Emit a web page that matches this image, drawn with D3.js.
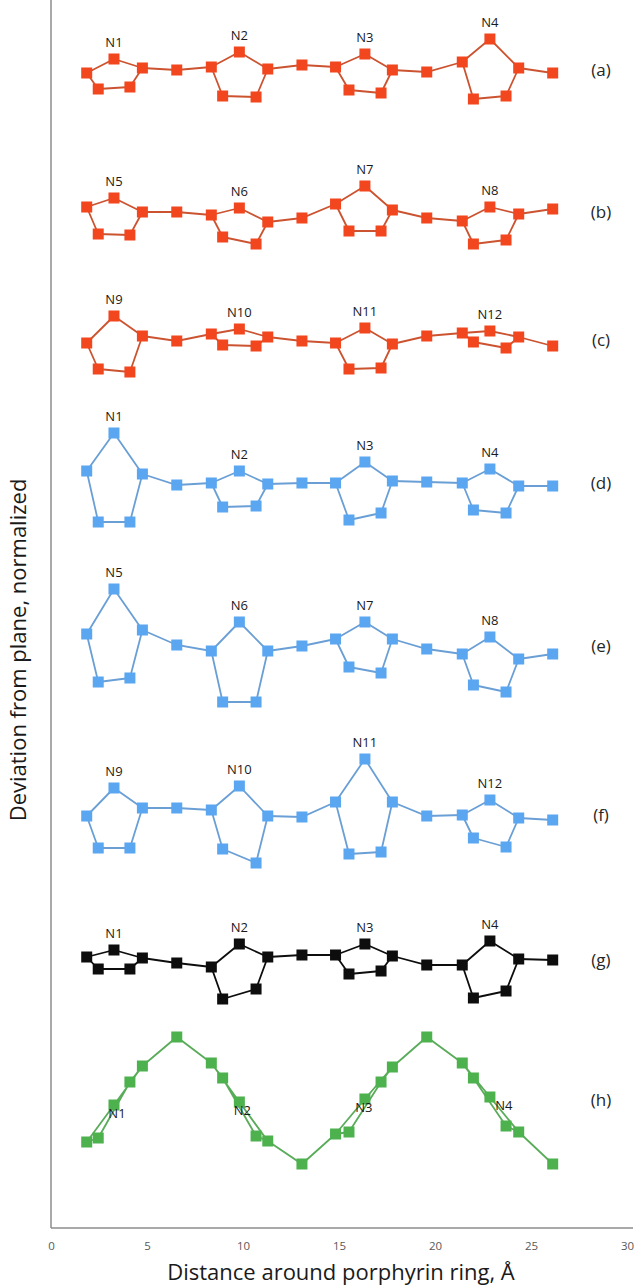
<!DOCTYPE html>
<html>
<head>
<meta charset="utf-8">
<script src="https://cdn.jsdelivr.net/npm/d3@7"></script>
<style>
  body { margin: 0; background: #fff; }
  svg text { font-family: "Open Sans", "Noto Sans", sans-serif; }
</style>
</head>
<body>
<svg id="chart" width="641" height="1285"></svg>
<script>
// atom positions around the ring (Å): Ca, Cb, N, Cb, Ca, meso ... x4, last meso
var xPos = [1.86, 2.46, 3.28, 4.11, 4.76, 6.55,
            8.35, 8.94, 9.81, 10.68, 11.29, 13.07,
            14.82, 15.52, 16.35, 17.19, 17.78, 19.57,
            21.42, 22.0, 22.86, 23.70, 24.36, 26.13];

var xTicks = [0, 5, 10, 15, 20, 25, 30];

var panelNames = ["(a)", "(b)", "(c)", "(d)", "(e)", "(f)", "(g)", "(h)"];
var panelOffsets = [115.8, 101.6, 88.8, 74.5, 58.2, 41.3, 26.8, 12.8];

var nLabelsA = ["N1", "N2", "N3", "N4"];
var nLabelsB = ["N5", "N6", "N7", "N8"];
var nLabelsC = ["N9", "N10", "N11", "N12"];

// deviation from plane, per atom (same order as xPos)
var devA = [-0.3, -1.9, 1.1, -1.7, 0.2, 0, 0.3, -2.6, 1.8, -2.7, 0.1, 0.5,
            0.3, -2.0, 1.6, -2.3, 0, -0.2, 0.8, -2.9, 3.1, -2.6, 0.2, -0.3];
var devB = [0.5, -2.2, 1.4, -2.3, 0, 0, -0.3, -2.5, 0.4, -3.2, -1.0, -0.6,
            0.8, -1.9, 2.6, -1.9, 0.2, -0.6, -0.9, -3.2, 0.5, -2.8, -0.2, 0.3];
var devC = [-0.3, -2.9, 2.4, -3.2, 0.4, -0.1, 0.6, -0.5, 1.1, -0.6, 0.3, -0.1,
            -0.3, -2.9, 1.2, -2.8, -0.4, 0.4, 0.7, -0.2, 0.9, -0.8, 0.3, -0.6];
var devD = [1.2, -3.9, 5.0, -3.9, 0.9, -0.2, 0, -2.4, 1.2, -2.3, -0.1, 0,
            0, -3.7, 2.1, -3.0, 0.2, 0.1, 0, -2.7, 1.4, -3.0, -0.3, -0.3];
var devE = [1.2, -3.6, 5.7, -3.2, 1.6, 0.1, -0.5, -5.6, 2.4, -5.6, -0.5, 0,
            0.7, -2.1, 2.4, -2.7, 0.7, -0.3, -0.8, -3.9, 0.9, -4.6, -1.3, -0.8];
var devF = [-0.1, -3.3, 2.7, -3.3, 0.7, 0.7, 0.5, -3.4, 2.9, -4.8, -0.1, -0.2,
            1.3, -3.9, 5.6, -3.7, 1.3, -0.1, 0, -2.3, 1.5, -3.2, -0.3, -0.5];
var devG = [0.3, -0.9, 1.0, -0.9, 0.2, -0.3, -0.7, -3.9, 1.6, -2.9, 0.3, 0.5,
            0.5, -1.4, 1.6, -1.1, 0.4, -0.5, -0.5, -3.8, 1.9, -3.1, 0.1, 0];
var devH = [-4.2, -3.8, -0.5, 1.8, 3.4, 6.3, 3.7, 2.2, -0.2, -3.6, -4.1, -6.4,
            -3.4, -3.2, 0.1, 1.8, 3.3, 6.3, 3.7, 2.2, 0.3, -2.6, -3.2, -6.4];

var panels = [
  {dev: devA, labels: nLabelsA, color: "#f2461f", line: "#cc5330"},
  {dev: devB, labels: nLabelsB, color: "#f2461f", line: "#cc5330"},
  {dev: devC, labels: nLabelsC, color: "#f2461f", line: "#cc5330"},
  {dev: devD, labels: nLabelsA, color: "#5aa6f0", line: "#6a9fd6"},
  {dev: devE, labels: nLabelsB, color: "#5aa6f0", line: "#6a9fd6"},
  {dev: devF, labels: nLabelsC, color: "#5aa6f0", line: "#6a9fd6"},
  {dev: devG, labels: nLabelsA, color: "#0d0d0d", line: "#0d0d0d"},
  {dev: devH, labels: nLabelsA, color: "#4db24e", line: "#5aac5a"}
];

var svg = d3.select("#chart");
var plotLeft = 51, plotRight = 633, plotBottom = 1228, plotTop = 0;

var x = d3.scaleLinear().domain([0, 30]).range([plotLeft, plotLeft + 576]);
var y = d3.scaleLinear().domain([0, 122.8]).range([plotBottom, plotTop]);

// axes
var xAxis = svg.append("g")
  .attr("transform", "translate(0," + plotBottom + ")")
  .call(d3.axisBottom(x).tickValues(xTicks).tickSize(0).tickPadding(14));
xAxis.select(".domain").remove();
xAxis.selectAll("text")
  .attr("fill", "#595959")
  .style("font-size", "11.5px");

svg.append("line")
  .attr("x1", plotLeft).attr("x2", plotRight)
  .attr("y1", plotBottom).attr("y2", plotBottom)
  .attr("stroke", "#8c8c8c").attr("stroke-width", 1.5);
svg.append("line")
  .attr("x1", plotLeft).attr("x2", plotLeft)
  .attr("y1", plotTop).attr("y2", plotBottom)
  .attr("stroke", "#8c8c8c").attr("stroke-width", 1.5);

svg.append("text")
  .attr("x", 341).attr("y", 1280)
  .attr("text-anchor", "middle")
  .attr("fill", "#1a1a1a")
  .style("font-size", "22px")
  .text("Distance around porphyrin ring, Å");

svg.append("text")
  .attr("transform", "translate(26,650) rotate(-90)")
  .attr("text-anchor", "middle")
  .attr("fill", "#1a1a1a")
  .style("font-size", "22px")
  .text("Deviation from plane, normalized");

var line = d3.line().x(function(d) { return x(d[0]); }).y(function(d) { return y(d[1]); });

panels.forEach(function(p, k) {
  var base = panelOffsets[k];
  var pts = xPos.map(function(xv, i) { return [xv, base + p.dev[i]]; });
  var g = svg.append("g");

  // each pyrrole ring is a closed pentagon, linked through the meso carbons
  for (var r = 0; r < 4; r++) {
    var i = r * 6;
    var ring = [pts[i], pts[i + 2], pts[i + 4], pts[i + 3], pts[i + 1], pts[i]];
    g.append("path").attr("d", line(ring))
      .attr("fill", "none").attr("stroke", p.line).attr("stroke-width", 1.8)
      .attr("stroke-linejoin", "round");
    var link = [pts[i + 4], pts[i + 5]];
    if (r < 3) link.push(pts[i + 6]);
    g.append("path").attr("d", line(link))
      .attr("fill", "none").attr("stroke", p.line).attr("stroke-width", 1.8);
  }

  g.selectAll("rect").data(pts).enter().append("rect")
    .attr("x", function(d) { return x(d[0]) - 5.5; })
    .attr("y", function(d) { return y(d[1]) - 5.5; })
    .attr("width", 11).attr("height", 11)
    .attr("fill", p.color);

  // N labels
  p.labels.forEach(function(lab, r) {
    var n = pts[r * 6 + 2];
    var tx = x(n[0]), ty = y(n[1]) - 12;
    if (k === 7) { tx = x(n[0]) + [3, 3, -1, 14][r]; ty = y(n[1]) + 13; }
    g.append("text")
      .attr("x", tx).attr("y", ty)
      .attr("text-anchor", "middle")
      .attr("fill", "#1a1a1a")
      .style("font-size", "13px")
      .text(lab);
  });

  svg.append("text")
    .attr("x", 601).attr("y", y(base) + 6)
    .attr("text-anchor", "middle")
    .attr("fill", "#262626")
    .style("font-size", "17px")
    .text(panelNames[k]);
});
</script>
</body>
</html>
